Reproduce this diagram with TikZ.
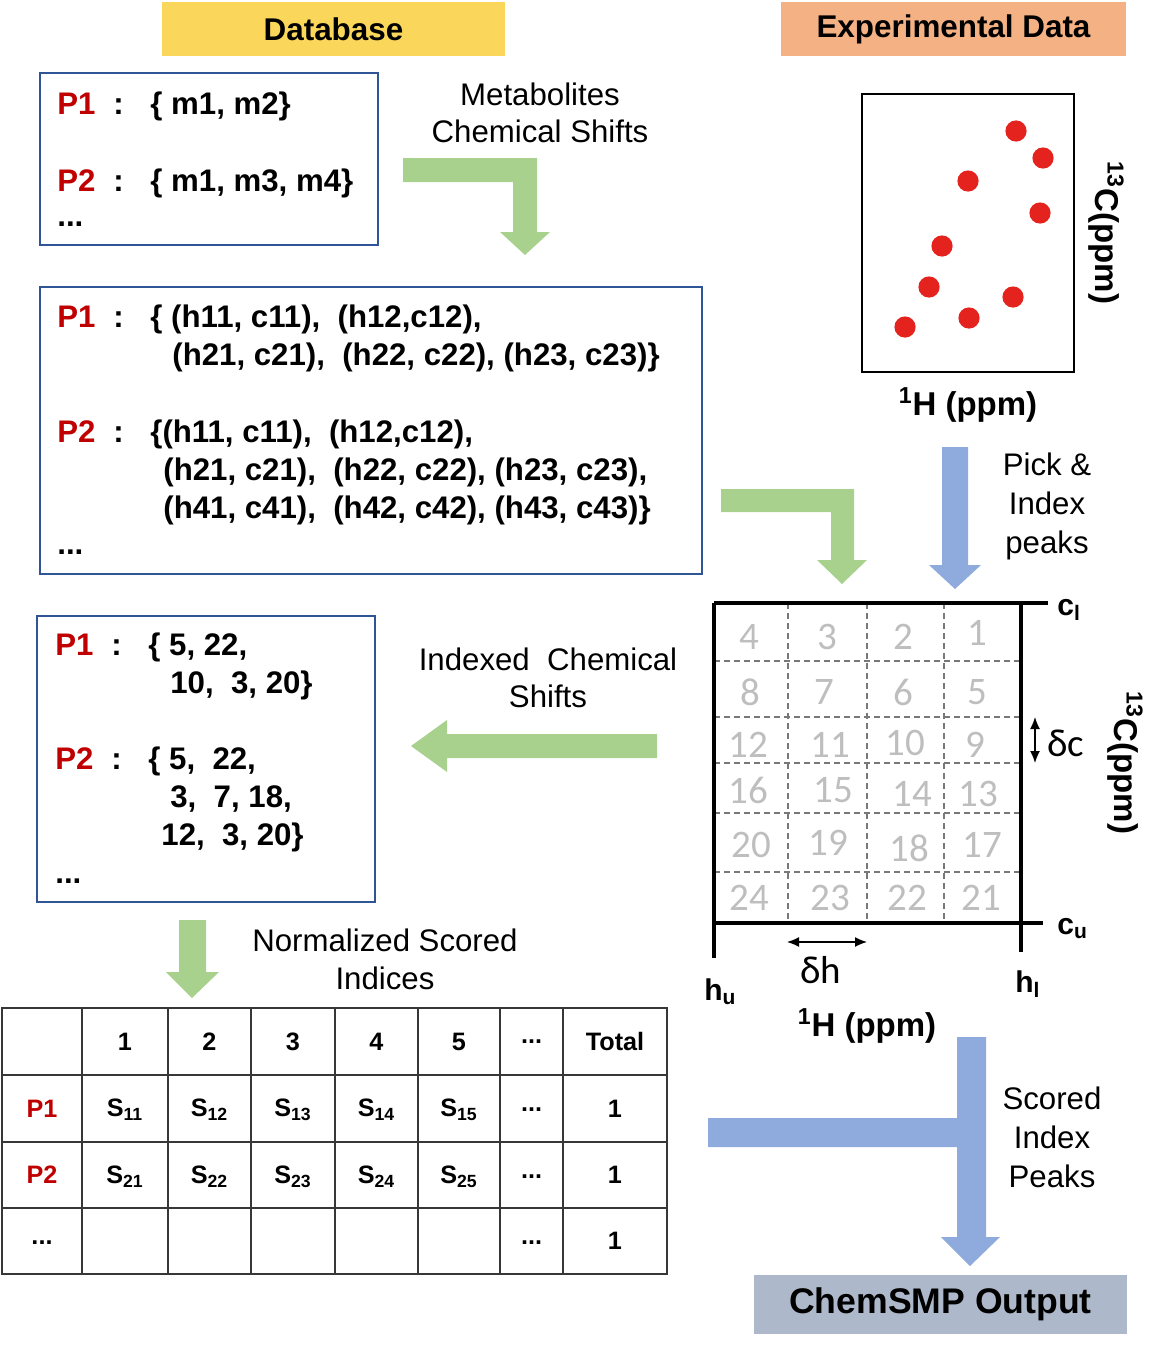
\documentclass[tikz,border=0pt]{standalone}
\usepackage{fontspec}
\setmainfont{Liberation Sans}
\newfontfamily\carl{Carlito}
\usetikzlibrary{arrows.meta}
\definecolor{hdryellow}{RGB}{250,215,90}
\definecolor{hdrorange}{RGB}{244,177,131}
\definecolor{arrgreen}{RGB}{169,209,142}
\definecolor{arrblue}{RGB}{143,170,220}
\definecolor{outgray}{RGB}{173,185,202}
\definecolor{boxblue}{RGB}{47,85,151}
\definecolor{pred}{RGB}{192,0,0}
\definecolor{dotred}{RGB}{228,35,30}
\definecolor{numgray}{RGB}{190,190,190}
\definecolor{dashgray}{RGB}{120,120,120}
\definecolor{tblline}{RGB}{55,55,55}
\newcommand{\tdots}{...}
\begin{document}
\begin{tikzpicture}[x=0.5pt,y=-0.5pt,
  hdr/.style={inner sep=0, font=\fontsize{15.7}{18}\selectfont\bfseries},
  dbbox/.style={draw=boxblue, line width=0.8pt, inner sep=0},
  bt/.style={inner sep=0, anchor=base west, font=\fontsize{15.6}{19}\selectfont\bfseries},
  lbl/.style={inner sep=0, align=center, font=\fontsize{15.6}{18.8}\selectfont},
  tt/.style={inner sep=0, font=\fontsize{12.6}{15}\selectfont\bfseries},
  num/.style={inner sep=0, text=numgray, font=\fontsize{19.5}{22}\selectfont\carl},
  axl/.style={inner sep=0, font=\fontsize{16.5}{19}\selectfont\bfseries},
  lim/.style={inner sep=0, anchor=base west, font=\fontsize{15}{18}\selectfont\bfseries},
  dl/.style={inner sep=0, font=\fontsize{19.5}{22}\selectfont\carl},
  dsh/.style={dashgray, line width=0.8pt, dash pattern=on 3pt off 2pt},
  frame/.style={black, line width=1.6pt},
  ga/.style={fill=arrgreen},
  ba/.style={fill=arrblue}
]
\useasboundingbox (0,0) rectangle (1152,1349);

% ---- headers
\node[hdr, fill=hdryellow, minimum width=171.5pt, minimum height=27pt] (dbhdr) at (333.5,29) {Database};
\node[hdr, fill=hdrorange, minimum width=172.5pt, minimum height=27pt] (exhdr) at (953.5,29) {Experimental Data};

% ---- box 1
\node[dbbox, minimum width=169pt, minimum height=86pt] (box1) at (209,159) {};
\node[bt,text=pred] (b1p1) at (57,114) {P1};
\node[bt] (b1c1) at (113,114) {:};
\node[bt] (b1s1) at (150,114) {\{ m1, m2\}};
\node[bt,text=pred] (b1p2) at (57,191) {P2};
\node[bt] (b1c2) at (113,191) {:};
\node[bt] (b1s2) at (150,191) {\{ m1, m3, m4\}};
\node[bt] (b1d) at (57,226) {...};

\node[lbl] (lab1) at (540,113) {Metabolites\\Chemical Shifts};
\fill[ga] (403,158) -- (537,158) -- (537,232) -- (550,232) -- (525,255) -- (500,232) -- (513,232) -- (513,182) -- (403,182) -- cycle;

% ---- box 2
\node[dbbox, minimum width=331pt, minimum height=143.5pt] (box2) at (371,430.5) {};
\node[bt,text=pred] (b2p1) at (57,327) {P1};
\node[bt] (b2c1) at (113,327) {:};
\node[bt] (b2s1) at (150,327) {\{ (h11, c11),~ (h12,c12),};
\node[bt] (b2s2) at (172,365) {(h21, c21),~ (h22, c22), (h23, c23)\}};
\node[bt,text=pred] (b2p2) at (57,442) {P2};
\node[bt] (b2c2) at (113,442) {:};
\node[bt] (b2s3) at (150,442) {\{(h11, c11),~ (h12,c12),};
\node[bt] (b2s4) at (163,480) {(h21, c21),~ (h22, c22), (h23, c23),};
\node[bt] (b2s5) at (163,518) {(h41, c41),~ (h42, c42), (h43, c43)\}};
\node[bt] (b2d) at (57,554) {...};

\fill[ga] (721,489) -- (854,489) -- (854,560) -- (867,560) -- (842,584) -- (817,560) -- (831,560) -- (831,512) -- (721,512) -- cycle;

% ---- scatter plot
\node[draw, line width=1pt, minimum width=106pt, minimum height=139pt, inner sep=0] (plot1) at (968,233) {};
\foreach \px/\py in {1016/131,1043/158,968/181,1040/213,942/246,929/287,1013/297,969/318,905/327}
  \fill[dotred] (\px,\py) circle (5.3pt);
\node[axl] (plot1x) at (968,405) {\textsuperscript{1}H (ppm)};
\node[axl, rotate=-90] (plot1y) at (1106,233) {\textsuperscript{13}C(ppm)};

\fill[ba] (942,447) -- (968,447) -- (968,565) -- (981,565) -- (955,589) -- (929,565) -- (942,565) -- cycle;
\node[lbl, font=\fontsize{15.6}{19.5}\selectfont] (lab2) at (1047,506) {Pick \&\\Index\\peaks};

% ---- grid
\foreach \gx in {788,867,944} \draw[dsh] (\gx,603) -- (\gx,923);
\foreach \gy in {661,717,763,813,872} \draw[dsh] (714,\gy) -- (1021,\gy);
\draw[frame] (714,603) -- (1048,603);
\draw[frame] (714,923) -- (1043,923);
\draw[frame] (714,603) -- (714,958);
\draw[frame] (1021,603) -- (1021,952);
\foreach \nx/\ny/\nt in {749/637/4,827/637/3,903/637/2,977/633/1,
  750/692/8,824/692/7,903/692/6,977/692/5,
  748/745/12,830/745/11,905/743/10,975/745/9,
  748/790/16,833/790/15,912/794/14,978/794/13,
  751/845/20,828/843/19,909/848/18,982/845/17,
  749/898/24,830/898/23,907/898/22,981/898/21}
  \node[num] (n\nt) at (\nx,\ny) {\nt};
\node[lim] (cl) at (1057,615) {c\textsubscript{l}};
\node[lim] (cu) at (1057,934) {c\textsubscript{u}};
\node[lim] (hu) at (704,1000) {h\textsubscript{u}};
\node[lim] (hl) at (1015,992) {h\textsubscript{l}};
\coordinate (dh1) at (787,942);
\coordinate (dh2) at (867,942);
\draw[line width=0.7pt, {Latex[length=6pt,width=5pt]}-{Latex[length=6pt,width=5pt]}] (dh1) -- (dh2);
\node[dl] (dhl) at (821,970) {δh};
\coordinate (dc1) at (1035,717);
\coordinate (dc2) at (1035,763);
\draw[line width=0.7pt, {Latex[length=6pt,width=5pt]}-{Latex[length=6pt,width=5pt]}] (dc1) -- (dc2);
\node[dl, anchor=west] (dcl) at (1047,743) {δc};
\node[axl, rotate=-90] (gridy) at (1125,763) {\textsuperscript{13}C(ppm)};
\node[axl] (gridx) at (867,1026) {\textsuperscript{1}H (ppm)};

% ---- indexed
\node[lbl] (lab3) at (548,678) {Indexed\ \ Chemical\\Shifts};
\fill[ga] (657,734) -- (447,734) -- (447,720) -- (411,746) -- (447,772) -- (447,758) -- (657,758) -- cycle;

% ---- box 3
\node[dbbox, minimum width=169pt, minimum height=143pt] (box3) at (206,759) {};
\node[bt,text=pred] (b3p1) at (55,655) {P1};
\node[bt] (b3c1) at (111,655) {:};
\node[bt] (b3s1) at (148,655) {\{ 5, 22,};
\node[bt] (b3s2) at (170,693) {10,~ 3, 20\}};
\node[bt,text=pred] (b3p2) at (55,769) {P2};
\node[bt] (b3c2) at (111,769) {:};
\node[bt] (b3s3) at (148,769) {\{ 5,~ 22,};
\node[bt] (b3s4) at (170,807) {3,~ 7, 18,};
\node[bt] (b3s5) at (161,845) {12,~ 3, 20\}};
\node[bt] (b3d) at (55,883) {...};

\fill[ga] (179,920) -- (206,920) -- (206,972) -- (219,972) -- (192,998) -- (166,972) -- (179,972) -- cycle;
\node[lbl, font=\fontsize{15.6}{19}\selectfont] (lab4) at (385,959) {Normalized Scored\\Indices};

% ---- table
\draw[tblline, line width=1.3pt] (2,1008) rectangle (667,1274);
\foreach \tx in {82,168,251,335,418,500,563} \draw[tblline, line width=1.3pt] (\tx,1008) -- (\tx,1274);
\foreach \ty in {1075,1142,1208} \draw[tblline, line width=1.3pt] (2,\ty) -- (667,\ty);
\foreach \cx/\ct [count=\i] in {125/1,209.5/2,293/3,376.5/4,459/5,531.5/\tdots,615/Total}
  \node[tt] (th\i) at (\cx,1041.5) {\ct};
\node[tt, text=pred] (tp1) at (42,1108.5) {P1};
\node[tt, text=pred] (tp2) at (42,1175) {P2};
\node[tt] (tp3) at (42,1243) {\tdots};
\foreach \cx/\cc in {125/1,209.5/2,293/3,376.5/4,459/5} {
  \node[tt] (sa\cc) at (\cx,1110) {S\textsubscript{1\cc}};
  \node[tt] (sb\cc) at (\cx,1177) {S\textsubscript{2\cc}};
}
\node[tt] (td1) at (531.5,1110) {\tdots};
\node[tt] (td2) at (531.5,1177) {\tdots};
\node[tt] (td3) at (531.5,1243) {\tdots};
\node[tt] (tt1) at (615,1108.5) {1};
\node[tt] (tt2) at (615,1175) {1};
\node[tt] (tt3) at (615,1241) {1};

% ---- output arrow
\fill[ba] (708,1118) -- (957,1118) -- (957,1037) -- (986,1037) -- (986,1237) -- (1000,1237) -- (970,1266) -- (941,1237) -- (957,1237) -- (957,1147) -- (708,1147) -- cycle;
\node[lbl, font=\fontsize{15.6}{19.5}\selectfont] (lab5) at (1052,1137) {Scored\\Index\\Peaks};
\node[hdr, fill=outgray, minimum width=186.5pt, minimum height=29.5pt, font=\fontsize{17.8}{20}\selectfont\bfseries] (outbox) at (940.5,1304.5) {ChemSMP Output};
\end{tikzpicture}
\end{document}
